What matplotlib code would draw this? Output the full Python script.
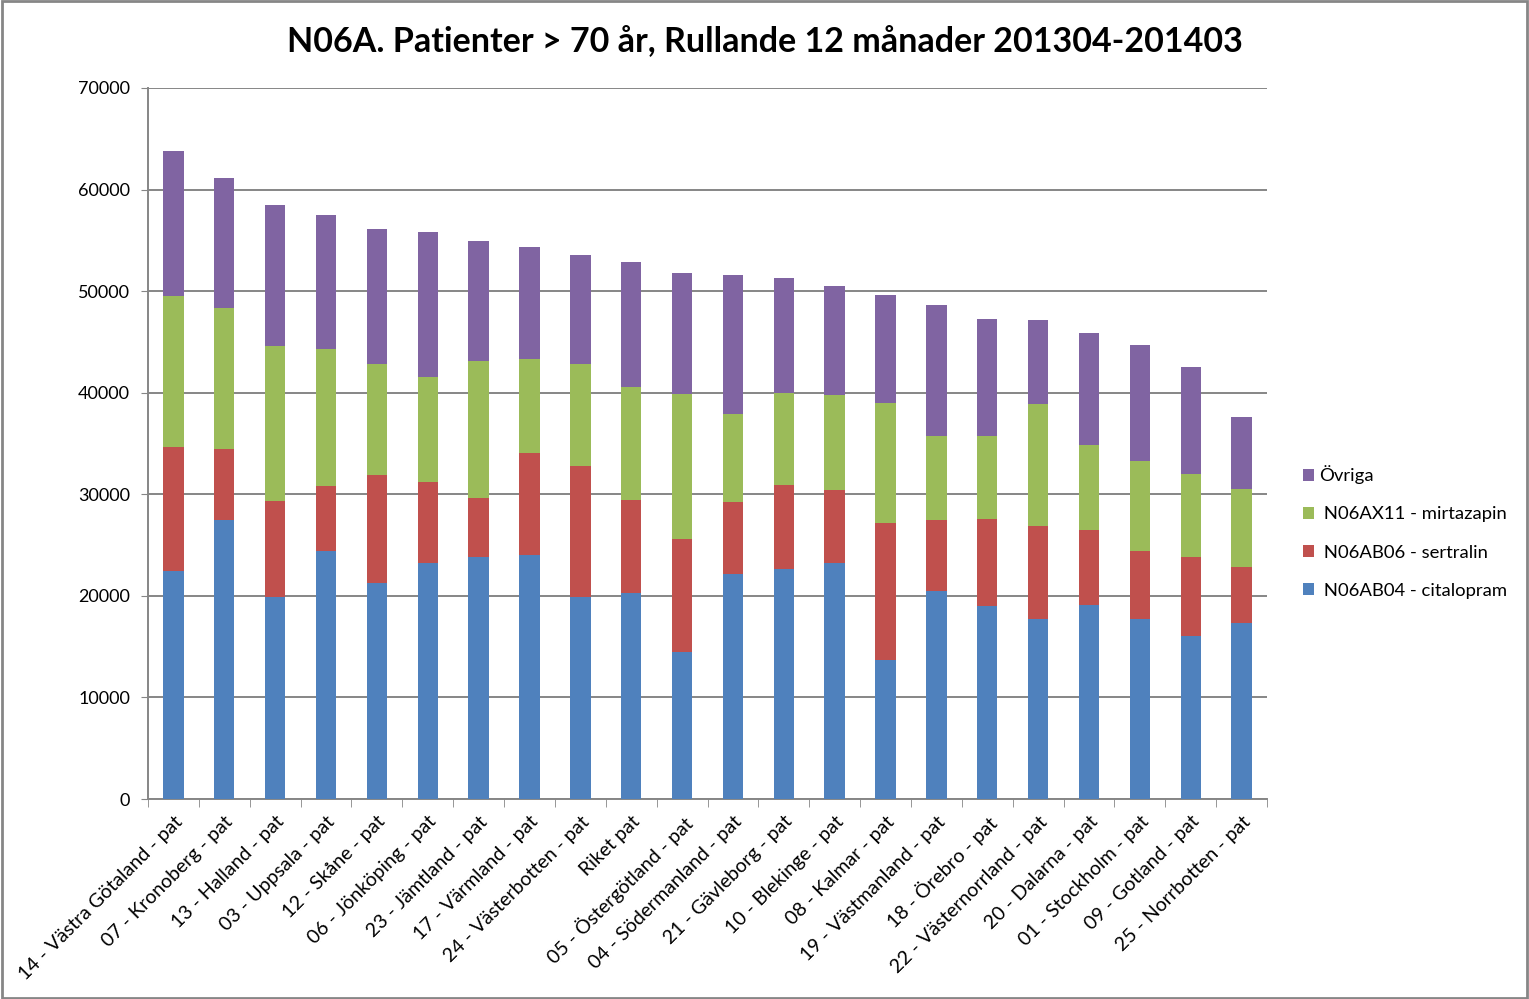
import matplotlib
matplotlib.use("Agg")
import matplotlib.pyplot as plt
from matplotlib.patches import Rectangle
import numpy as np

plt.rcParams['font.family'] = ['Lato', 'DejaVu Sans']

categories = [
    "14 - Västra Götaland - pat", "07 - Kronoberg - pat", "13 - Halland - pat",
    "03 - Uppsala - pat", "12 - Skåne - pat", "06 - Jönköping - pat",
    "23 - Jämtland - pat", "17 - Värmland - pat", "24 - Västerbotten - pat",
    "Riket pat", "05 - Östergötland - pat", "04 - Södermanland - pat",
    "21 - Gävleborg - pat", "10 - Blekinge - pat", "08 - Kalmar - pat",
    "19 - Västmanland - pat", "18 - Örebro - pat", "22 - Västernorrland - pat",
    "20 - Dalarna - pat", "01 - Stockholm - pat", "09 - Gotland - pat",
    "25 - Norrbotten - pat",
]
citalopram = [22400, 27500, 19900, 24400, 21300, 23200, 23800, 24000, 19900, 20300, 14500,
              22200, 22600, 23200, 13700, 20500, 19000, 17700, 19100, 17700, 16000, 17300]
sertralin = [12300, 7000, 9400, 6400, 10600, 8000, 5800, 10100, 12900, 9100, 11100,
             7000, 8300, 7200, 13500, 7000, 8600, 9200, 7400, 6700, 7800, 5500]
mirtazapin = [14800, 13800, 15300, 13500, 10900, 10300, 13500, 9200, 10000, 11200, 14300,
              8700, 9100, 9400, 11800, 8200, 8100, 12000, 8400, 8900, 8200, 7700]
ovriga = [14300, 12800, 13900, 13200, 13300, 14300, 11800, 11000, 10800, 12300, 11900,
          13700, 11300, 10700, 10600, 12900, 11600, 8300, 11000, 11400, 10500, 7100]

series = [
    ("N06AB04 - citalopram", citalopram, "#4F81BD"),
    ("N06AB06 - sertralin", sertralin, "#C0504D"),
    ("N06AX11 - mirtazapin", mirtazapin, "#9BBB59"),
    ("Övriga", ovriga, "#8064A2"),
]
legend_labels = {"Övriga": "Övriga",
                 "N06AX11 - mirtazapin": " N06AX11 - mirtazapin",
                 "N06AB06 - sertralin": " N06AB06 - sertralin",
                 "N06AB04 - citalopram": " N06AB04 - citalopram"}

fig = plt.figure(figsize=(15.29, 9.99), dpi=100)
ax = fig.add_axes([148/1529, 1-799/999, (1267-148)/1529, (799-88)/999])

x = np.arange(len(categories))
bottom = np.zeros(len(categories))
handles = []
for name, vals, col in series:
    b = ax.bar(x, vals, width=0.4, bottom=bottom, color=col, zorder=3, label=legend_labels[name])
    handles.append(b)
    bottom += np.array(vals)

ax.set_xlim(-0.5, len(categories) - 0.5)
ax.set_ylim(0, 70000)
ax.set_yticks(np.arange(0, 70001, 10000))
ax.tick_params(axis='y', labelsize=13, length=5, color='#868686', pad=8)
ax.yaxis.grid(True, color='#868686', linewidth=1.4, zorder=0)
ax.set_axisbelow(True)

ax.set_xticks(x)
ax.set_xticklabels(categories, rotation=45, ha='right', rotation_mode='anchor', fontsize=14)
ax.tick_params(axis='x', which='major', length=0, pad=10)
ax.set_xticks(np.arange(-0.5, len(categories), 1.0), minor=True)
ax.tick_params(axis='x', which='minor', length=6, color='#868686')

for s in ['top', 'right']:
    ax.spines[s].set_visible(False)
for s in ['left', 'bottom']:
    ax.spines[s].set_color('#868686')
    ax.spines[s].set_linewidth(1.4)

fig.text(765/1529, 1-42/999, "N06A. Patienter > 70 år, Rullande 12 månader 201304-201403",
         ha='center', va='center', fontsize=24.5, fontweight='bold')

h = handles[::-1]
leg = fig.legend(h, [hh.get_label() for hh in h], loc='center left',
                 bbox_to_anchor=(1286/1529, 1-532/999), frameon=False, fontsize=13.3,
                 handlelength=0.6, handleheight=0.6, handletextpad=0.3, labelspacing=1.2)

fig.patches.append(Rectangle((0.001, 0.001), 0.998, 0.998, transform=fig.transFigure,
                             fill=False, edgecolor='#868686', linewidth=2))

fig.savefig("out.png", dpi=100)
